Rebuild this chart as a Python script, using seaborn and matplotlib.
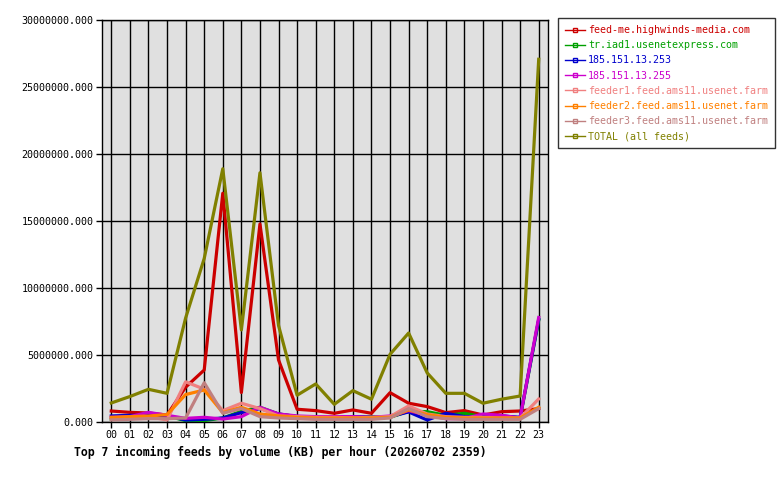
import matplotlib
matplotlib.use("Agg")
import matplotlib.pyplot as plt
from matplotlib.lines import Line2D
import seaborn as sns
import pandas as pd
import numpy as np

hours = ["%02d" % h for h in range(24)]
feeds = ["feed-me.highwinds-media.com", "tr.iad1.usenetexpress.com", "185.151.13.253",
         "185.151.13.255", "feeder1.feed.ams11.usenet.farm", "feeder2.feed.ams11.usenet.farm",
         "feeder3.feed.ams11.usenet.farm", "TOTAL (all feeds)"]
colors = ["#cc0000", "#00a000", "#0000cc", "#cc00cc", "#f08080", "#ff8000", "#c08080", "#808000"]

# values in millions of KB
feed_me = [0.82, 0.72, 0.67, 0.52, 2.6, 3.88, 17.07, 2.2, 14.78, 4.63, 0.95, 0.85,
           0.65, 0.9, 0.65, 2.19, 1.4, 1.15, 0.7, 0.85, 0.52, 0.77, 0.82, 1.0]
tr_iad1 = [0.2, 0.3, 0.4, 0.45, 0.1, 0.1, 0.3, 0.8, 1.1, 0.6, 0.4, 0.4,
           0.35, 0.35, 0.4, 0.35, 0.8, 0.77, 0.5, 0.65, 0.4, 0.45, 0.3, 7.6]
ip253 = [0.45, 0.5, 0.5, 0.45, 0.15, 0.2, 0.3, 0.7, 1.0, 0.6, 0.4, 0.4,
         0.35, 0.4, 0.35, 0.4, 0.75, 0.15, 0.65, 0.4, 0.4, 0.45, 0.35, 7.65]
ip255 = [0.35, 0.4, 0.72, 0.5, 0.27, 0.35, 0.22, 0.4, 1.1, 0.6, 0.45, 0.4,
         0.4, 0.4, 0.35, 0.45, 0.85, 0.5, 0.25, 0.25, 0.6, 0.5, 0.3, 7.8]
feeder1 = [0.32, 0.35, 0.4, 0.15, 3.0, 2.45, 0.85, 1.4, 1.0, 0.45, 0.4, 0.35,
           0.35, 0.3, 0.35, 0.4, 1.2, 0.6, 0.4, 0.35, 0.35, 0.3, 0.3, 1.72]
feeder2 = [0.35, 0.4, 0.45, 0.55, 2.05, 2.39, 0.7, 1.1, 0.6, 0.45, 0.35, 0.3,
           0.3, 0.3, 0.3, 0.35, 0.9, 0.55, 0.35, 0.3, 0.3, 0.3, 0.3, 1.1]
feeder3 = [0.15, 0.2, 0.25, 0.25, 0.3, 2.93, 0.65, 1.0, 0.4, 0.3, 0.25, 0.2,
           0.2, 0.2, 0.2, 0.3, 1.0, 0.4, 0.25, 0.2, 0.2, 0.2, 0.2, 1.0]
total = [1.42, 1.9, 2.44, 2.14, 7.76, 12.2, 18.9, 6.87, 18.6, 7.2, 2.0, 2.84,
         1.32, 2.34, 1.7, 5.05, 6.64, 3.66, 2.14, 2.14, 1.4, 1.7, 1.94, 27.07]

series = [feed_me, tr_iad1, ip253, ip255, feeder1, feeder2, feeder3, total]
rows = []
for name, vals in zip(feeds, series):
    for i, v in enumerate(vals):
        rows.append({"hour": i, "feed": name, "kb": v * 1e6})
df = pd.DataFrame(rows)

mono = "DejaVu Sans Mono"
plt.rcParams["font.family"] = [mono]

fig = plt.figure(figsize=(7.8, 4.8), dpi=100)
fig.patch.set_facecolor("white")
ax = fig.add_axes([102 / 780, 1 - 422 / 480, (548 - 102) / 780, (422 - 20) / 480])
ax.set_facecolor("#e0e0e0")

sns.lineplot(data=df, x="hour", y="kb", hue="feed", hue_order=feeds,
             palette=dict(zip(feeds, colors)), linewidth=2.3, legend=False, ax=ax,
             zorder=3)

ax.set_xlim(-0.5, 23.5)
ax.set_ylim(0, 30e6)
ax.set_xticks(range(24))
ax.set_xticklabels(hours, fontsize=7.2)
yt = np.arange(0, 30e6 + 1, 5e6)
ax.set_yticks(yt)
ax.set_yticklabels(["%.3f" % v for v in yt], fontsize=7.2)
ax.grid(True, color="black", linewidth=1, zorder=1)
ax.set_axisbelow(True)
ax.tick_params(direction="out", length=4, width=1, color="black", pad=2)
for s in ax.spines.values():
    s.set_color("black")
    s.set_linewidth(1)
ax.set_xlabel("")
ax.set_ylabel("")

handles = [Line2D([0], [0], color=c, linewidth=1, marker="s", markersize=3,
                  markerfacecolor="none", markeredgecolor=c) for c in colors]
leg = fig.legend(handles, feeds, loc="upper left", bbox_to_anchor=(558 / 780, 1 - 18 / 480),
                 borderaxespad=0, fancybox=False, frameon=True, prop={"family": mono, "size": 7.2},
                 handlelength=2.0, handletextpad=0.3, labelspacing=0.52, borderpad=0.7)
leg.get_frame().set_edgecolor("black")
leg.get_frame().set_linewidth(1)
for t, c in zip(leg.get_texts(), colors):
    t.set_color(c)

fig.text(74 / 780, 1 - 452 / 480, "Top 7 incoming feeds by volume (KB) per hour (20260702 2359)",
         fontsize=8.3, fontweight="bold", va="center", ha="left", family=mono)

fig.savefig("out.png", dpi=100)
